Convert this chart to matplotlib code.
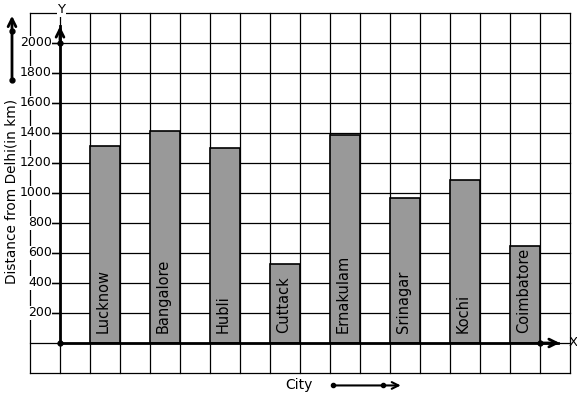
import matplotlib.pyplot as plt

cities = ['Lucknow', 'Bangalore', 'Hubli', 'Cuttack', 'Ernakulam', 'Srinagar', 'Kochi', 'Coimbatore']
distances = [1310, 1410, 1300, 525, 1385, 965, 1085, 645]
y_ticks = [200, 400, 600, 800, 1000, 1200, 1400, 1600, 1800, 2000]

# one grid cell = 30 px; origin at pixel (60, 343); 200 km per cell
fig = plt.figure(figsize=(5.77, 3.99), dpi=100)
ax = fig.add_axes([0, 0, 1, 1])
ax.set_xlim(-2, 517 / 30)
ax.set_ylim(-56 / 30 * 200, 343 / 30 * 200)
ax.axis('off')

# grid
for gx in range(-1, 18):
    ax.plot([gx, gx], [-200, 2200], color='black', lw=0.9, zorder=1)
for gy in range(-200, 2201, 200):
    ax.plot([-1, 17], [gy, gy], color='black', lw=0.9, zorder=1)

# bars
xs = [1 + 2 * i for i in range(len(cities))]
ax.bar([x + 0.5 for x in xs], distances, width=1, color='#999999',
       edgecolor='black', linewidth=1.2, zorder=2)
for x, name in zip(xs, cities):
    ax.text(x + 0.45, 65, name, rotation=90, ha='center', va='bottom',
            fontsize=10.5, zorder=3)

# axes with arrows
ax.plot([0, 0], [0, 2110], color='black', lw=2, zorder=4)
ax.plot([0, 16.6], [0, 0], color='black', lw=2, zorder=4)
ax.annotate('', xy=(0, 2130), xytext=(0, 2000),
            arrowprops=dict(arrowstyle='->', lw=2, color='black', mutation_scale=14), zorder=5)
ax.annotate('', xy=(16.75, 0), xytext=(16.0, 0),
            arrowprops=dict(arrowstyle='->', lw=2, color='black', mutation_scale=14), zorder=5)
ax.plot([0, 0, 16], [0, 2000, 0], 'o', color='black', ms=3.5, zorder=6)
ax.text(0.05, 2220, 'Y', ha='center', va='center', fontsize=9.5,
        bbox=dict(facecolor='white', edgecolor='none', pad=0.5), zorder=6)
ax.text(16.95, 0, 'X', ha='left', va='center', fontsize=9.5, zorder=6)

# y tick labels
for t in y_ticks:
    ax.plot([-0.27, 0], [t, t], color='black', lw=1, zorder=4)
    ax.text(-0.27, t, str(t), ha='right', va='center', fontsize=9,
            bbox=dict(facecolor='white', edgecolor='none', pad=0.3), zorder=5)

# axis titles and direction arrows
ax.text(-1.6, 1010, 'Distance from Delhi(in km)', rotation=90, ha='center',
        va='center', fontsize=9.8,
        bbox=dict(facecolor='white', edgecolor='none', pad=0.3), zorder=5)
ax.annotate('', xy=(-1.6, 2200), xytext=(-1.6, 1750),
            arrowprops=dict(arrowstyle='->', lw=2, color='black', mutation_scale=14))
ax.plot([-1.6, -1.6], [1750, 2080], 'o', color='black', ms=3.5)

ax.text(7.95, -280, 'City', ha='center', va='center', fontsize=10)
ax.annotate('', xy=(11.45, -283), xytext=(9.1, -283),
            arrowprops=dict(arrowstyle='->', lw=1.5, color='black', mutation_scale=12))
ax.plot([9.1, 10.78], [-283, -283], 'o', color='black', ms=3)

fig.savefig('out.png', dpi=100)
